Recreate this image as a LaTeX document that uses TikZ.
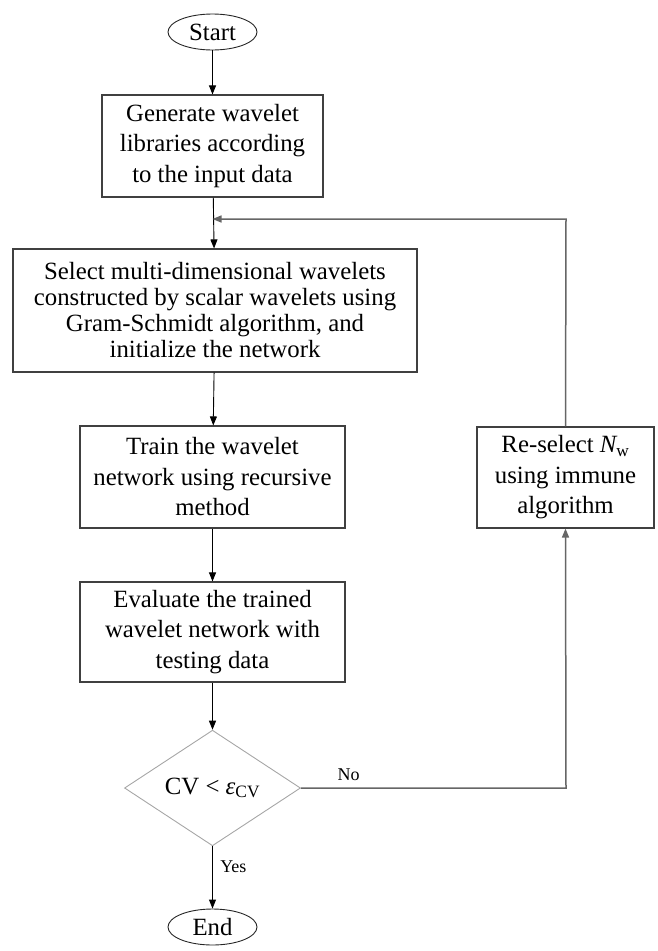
\documentclass[tikz,border=0pt]{standalone}
\usepackage{fontspec}
\setmainfont{Liberation Serif}
\usetikzlibrary{arrows.meta, shapes.geometric}

\begin{document}
\begin{tikzpicture}[x=1pt, y=-1pt,
    font=\fontsize{24.8pt}{30.5pt}\selectfont,
    process/.style={draw=black!75, line width=1.1pt, align=center, inner sep=0pt, minimum height=102pt},
    terminal/.style={draw=black!85, line width=0.9pt, ellipse, inner sep=0pt, minimum width=89pt, minimum height=36pt},
    decision/.style={draw=black!35, line width=0.9pt, diamond, inner sep=0pt, minimum width=176pt, minimum height=106pt},
    flow/.style={draw=black, line width=0.9pt, -{Triangle[length=9pt,width=7pt]}},
    loopback/.style={draw=black!60, line width=1.5pt, -{Triangle[length=9pt,width=7pt]}},
    lbl/.style={font=\fontsize{18pt}{20pt}\selectfont}]
\useasboundingbox (0,0) rectangle (658,951);

% Terminals
\node[terminal] (start) at (212.5,32) {Start};
\node[terminal] (end) at (212.5,927) {End};

% Main column
\node[process, minimum width=221pt] (gen) at (212.5,146) {Generate wavelet\\libraries according\\to the input data};
\node[process, minimum width=404pt, minimum height=123pt, font=\fontsize{24.8pt}{26pt}\selectfont] (sel) at (215,310.5)
    {Select multi-dimensional wavelets\\constructed by scalar wavelets using\\Gram-Schmidt algorithm, and\\initialize the network};
\node[process, minimum width=265pt] (train) at (212.5,477) {Train the wavelet\\network using recursive\\method};
\node[process, minimum width=265pt, minimum height=100pt] (eval) at (212.5,632) {Evaluate the trained\\wavelet network with\\testing data};
\node[decision] (cv) at (212.5,788) {CV < {\itshape ε}\textsubscript{CV}};

% Feedback branch
\node[process, minimum width=177pt, minimum height=101pt] (resel) at (565.5,477.5) {Re-select {\itshape N}\textsubscript{w}\\using immune\\algorithm};
\coordinate (join) at (212.5,219);
\coordinate (corner) at (566,219);
\coordinate (turn) at (566,788);

% Connectors
\draw[flow] (start) -- (gen);
\draw[flow] (gen) -- (sel);
\draw[flow] (sel) -- (train);
\draw[flow] (train) -- (eval);
\draw[flow] (eval) -- (cv);
\draw[flow] (cv) -- node[lbl, right=4pt, pos=0.32] {Yes} (end);
\draw[loopback] (cv.east) -- node[lbl, above=3pt, pos=0.18] {No} (turn) -- (resel.south);
\draw[loopback] (resel.north) -- (corner) -- (join);

\end{tikzpicture}
\end{document}
